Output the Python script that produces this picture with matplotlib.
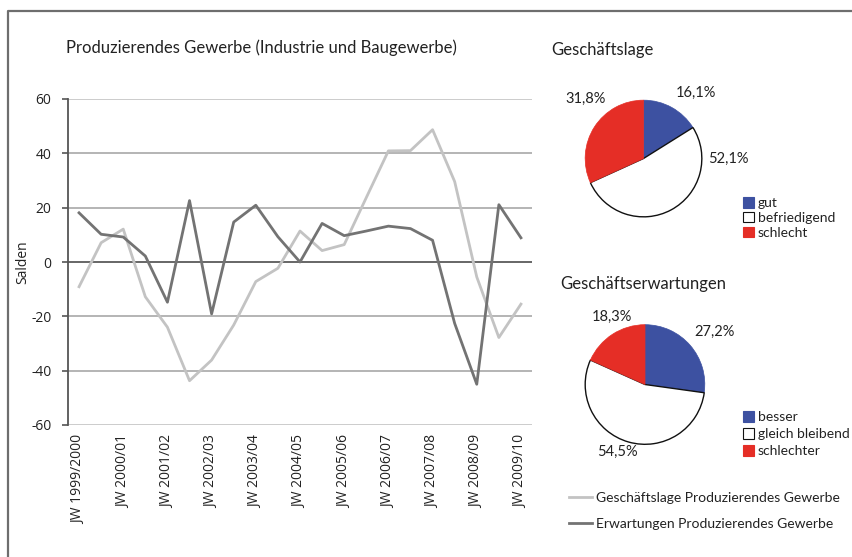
import numpy as np
import matplotlib
matplotlib.use("Agg")
import matplotlib.pyplot as plt
import matplotlib.patches as mpatches
import matplotlib.lines as mlines

# data
jahre = ['JW 1999/2000', 'JW 2000/01', 'JW 2001/02', 'JW 2002/03', 'JW 2003/04', 'JW 2004/05',
         'JW 2005/06', 'JW 2006/07', 'JW 2007/08', 'JW 2008/09', 'JW 2009/10']
lage = [-9.1, 7.1, 12.1, -12.8, -24.0, -43.7, -36.1, -23.2, -7.2, -2.3, 11.4,
        4.2, 6.4, 23.7, 40.9, 41.0, 48.7, 29.6, -5.5, -27.8, -15.5]
erwartungen = [18.1, 10.2, 9.2, 2.2, -14.8, 22.6, -19.1, 14.7, 20.9, 9.3, 0.0,
               14.2, 9.7, 11.4, 13.2, 12.3, 8.0, -22.6, -45.0, 21.1, 8.9]
lage_pie = [16.1, 52.1, 31.8]
lage_pie_labels = ['gut', 'befriedigend', 'schlecht']
erw_pie = [27.2, 54.5, 18.3]
erw_pie_labels = ['besser', 'gleich bleibend', 'schlechter']

W, H = 852, 557
blau = '#3d51a1'
rot = '#e52e26'
hell = '#c3c3c3'
dunkel = '#737373'
plt.rcParams['font.family'] = ['Open Sans', 'DejaVu Sans']

fig = plt.figure(figsize=(W / 100, H / 100), dpi=100)

def px(x0, y0, x1, y1):
    # pixel box -> figure coords
    return [x0 / W, 1 - y1 / H, (x1 - x0) / W, (y1 - y0) / H]

# frame lines top and left
fig.add_artist(mlines.Line2D([7.5 / W, 7.5 / W, 1], [0, 1 - 11 / H, 1 - 11 / H],
                             color='#6e6e6e', lw=1.6, transform=fig.transFigure))

# line chart
ax = fig.add_axes(px(68, 99, 532, 425))
x = np.arange(len(lage))
l1, = ax.plot(x, lage, color=hell, lw=2, label='Geschäftslage Produzierendes Gewerbe')
l2, = ax.plot(x, erwartungen, color=dunkel, lw=2, label='Erwartungen Produzierendes Gewerbe')
ax.set_xlim(-0.5, len(lage) - 0.5)
ax.set_ylim(-60, 60)
ax.set_yticks([-60, -40, -20, 0, 20, 40, 60])
ax.set_yticklabels(['-60', '-40', '-20', '0', '20', '40', '60'])
for v in [-60, -40, -20, 20, 40, 60]:
    ax.axhline(v, color='#a8a8a8' if v not in (60, -60) else '#c4c4c4', lw=1.2, zorder=0)
ax.axhline(0, color='#5a5a5a', lw=1.3, zorder=1)
ax.set_xticks(np.arange(0, len(lage), 2))
ax.set_xticklabels(jahre, rotation=90, fontsize=10, color='#222222')
ax.tick_params(axis='x', length=0, pad=7)
ax.tick_params(axis='y', length=4, width=1.2, color='#555555', labelsize=10, pad=8, labelcolor='#222222')
for s in ['top', 'right', 'bottom']:
    ax.spines[s].set_visible(False)
ax.spines['left'].set_color('#555555')
ax.spines['left'].set_linewidth(1.3)
ax.set_ylabel('Salden', fontsize=10, color='#222222')
ax.yaxis.set_label_coords((30 - 68) / 464, 0.5)
fig.text(66 / W, 1 - 48 / H, 'Produzierendes Gewerbe (Industrie und Baugewerbe)',
         fontsize=12, va='center', ha='left', color='#222222', family=['Lato', 'DejaVu Sans'])

fig.legend(handles=[l1, l2], loc='upper left', bbox_to_anchor=(556 / W, 1 - 479 / H),
           frameon=False, handlelength=1.7, handletextpad=0.25, labelspacing=1.05,
           prop={'family': ['Lato', 'DejaVu Sans'], 'size': 10}, labelcolor='#222222')


def pie_panel(box, werte, labels, titel, titel_pos, pct_pos, leg_pos, spacing):
    pa = fig.add_axes(box)
    pa.pie(werte, colors=[blau, 'white', rot], startangle=90, counterclock=False,
           wedgeprops={'edgecolor': '#111111', 'linewidth': 1.0})
    # colored wedges without black edge
    for w, c in zip(pa.patches, [blau, 'white', rot]):
        if c != 'white':
            w.set_edgecolor(c)
            w.set_linewidth(0.5)
    pa.set_xlim(-1.02, 1.02)
    pa.set_ylim(-1.02, 1.02)
    pa.set_aspect('equal')
    pa.axis('off')
    fig.text(titel_pos[0] / W, 1 - titel_pos[1] / H, titel, fontsize=12, va='center',
             ha='left', color='#222222', family=['Lato', 'DejaVu Sans'])
    for v, (tx, ty) in zip(werte, pct_pos):
        fig.text(tx / W, 1 - ty / H, f'{v:.1f}%'.replace('.', ','), fontsize=10.5,
                 ha='center', va='center', color='#222222', family=['Lato', 'DejaVu Sans'])
    handles = [mpatches.Patch(facecolor=c, edgecolor='#111111' if c == 'white' else c, lw=0.8)
               for c in [blau, 'white', rot]]
    fig.legend(handles=handles, labels=labels, loc='upper left',
               bbox_to_anchor=(leg_pos[0] / W, 1 - leg_pos[1] / H), frameon=False,
               handlelength=0.8, handleheight=0.8, handletextpad=0.25, labelspacing=spacing,
               borderpad=0, prop={'family': ['Lato', 'DejaVu Sans'], 'size': 10},
               labelcolor='#222222')


pie_panel(px(584, 99, 703, 218), lage_pie, lage_pie_labels, 'Geschäftslage', (551, 50),
          [(696, 93), (728, 159), (586, 99)], (736, 190), 0.2)
pie_panel(px(584, 323, 706, 446), erw_pie, erw_pie_labels, 'Geschäftserwartungen', (560, 284),
          [(715, 332), (617, 452), (612, 317)], (736, 404), 0.35)

fig.savefig('out.png', dpi=100)
